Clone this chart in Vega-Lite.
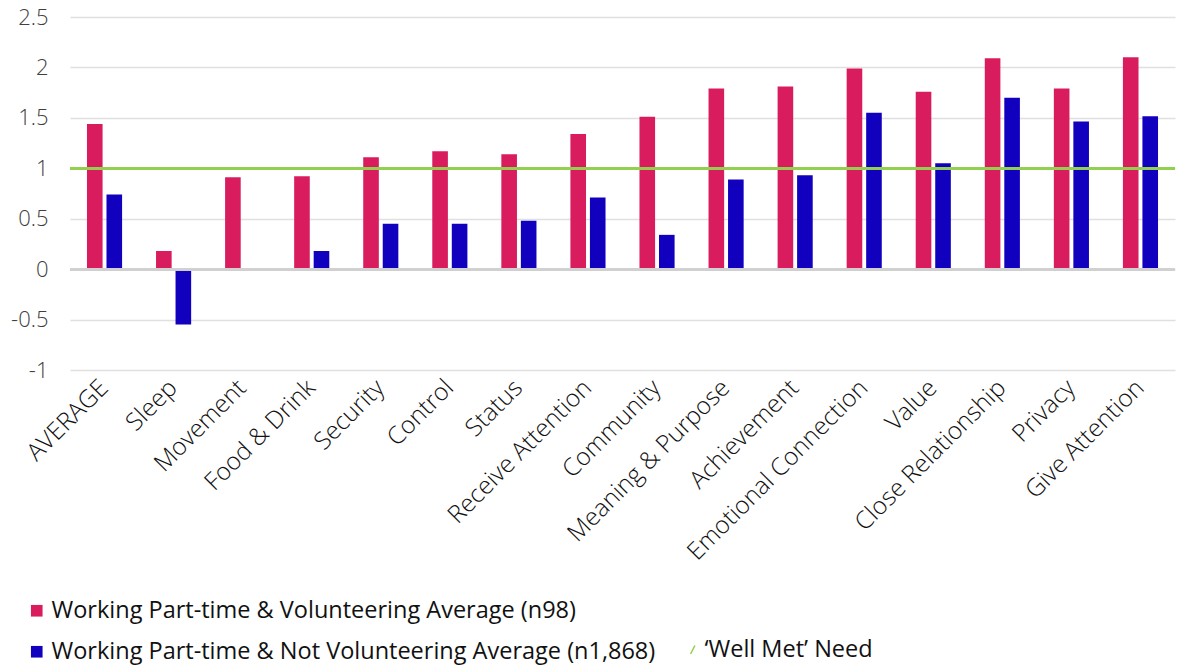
{
  "$schema": "https://vega.github.io/schema/vega-lite/v6.json",
  "autosize": {"type": "none"},
  "padding": {"left": 70, "top": 17, "right": 8, "bottom": 297},
  "width": 1105,
  "height": 353,
  "background": "#ffffff",
  "config": {
    "view": {"stroke": null},
    "font": "Open Sans"
  },
  "data": {
    "values": [
      {"need": "AVERAGE", "group": "Working Part-time & Volunteering Average (n98)", "value": 1.44},
      {"need": "AVERAGE", "group": "Working Part-time & Not Volunteering Average (n1,868)", "value": 0.74},
      {"need": "Sleep", "group": "Working Part-time & Volunteering Average (n98)", "value": 0.18},
      {"need": "Sleep", "group": "Working Part-time & Not Volunteering Average (n1,868)", "value": -0.55},
      {"need": "Movement", "group": "Working Part-time & Volunteering Average (n98)", "value": 0.91},
      {"need": "Food & Drink", "group": "Working Part-time & Volunteering Average (n98)", "value": 0.92},
      {"need": "Food & Drink", "group": "Working Part-time & Not Volunteering Average (n1,868)", "value": 0.18},
      {"need": "Security", "group": "Working Part-time & Volunteering Average (n98)", "value": 1.11},
      {"need": "Security", "group": "Working Part-time & Not Volunteering Average (n1,868)", "value": 0.45},
      {"need": "Control", "group": "Working Part-time & Volunteering Average (n98)", "value": 1.17},
      {"need": "Control", "group": "Working Part-time & Not Volunteering Average (n1,868)", "value": 0.45},
      {"need": "Status", "group": "Working Part-time & Volunteering Average (n98)", "value": 1.14},
      {"need": "Status", "group": "Working Part-time & Not Volunteering Average (n1,868)", "value": 0.48},
      {"need": "Receive Attention", "group": "Working Part-time & Volunteering Average (n98)", "value": 1.34},
      {"need": "Receive Attention", "group": "Working Part-time & Not Volunteering Average (n1,868)", "value": 0.71},
      {"need": "Community", "group": "Working Part-time & Volunteering Average (n98)", "value": 1.51},
      {"need": "Community", "group": "Working Part-time & Not Volunteering Average (n1,868)", "value": 0.34},
      {"need": "Meaning & Purpose", "group": "Working Part-time & Volunteering Average (n98)", "value": 1.79},
      {"need": "Meaning & Purpose", "group": "Working Part-time & Not Volunteering Average (n1,868)", "value": 0.89},
      {"need": "Achievement", "group": "Working Part-time & Volunteering Average (n98)", "value": 1.81},
      {"need": "Achievement", "group": "Working Part-time & Not Volunteering Average (n1,868)", "value": 0.93},
      {"need": "Emotional Connection", "group": "Working Part-time & Volunteering Average (n98)", "value": 1.99},
      {"need": "Emotional Connection", "group": "Working Part-time & Not Volunteering Average (n1,868)", "value": 1.55},
      {"need": "Value", "group": "Working Part-time & Volunteering Average (n98)", "value": 1.76},
      {"need": "Value", "group": "Working Part-time & Not Volunteering Average (n1,868)", "value": 1.05},
      {"need": "Close Relationship", "group": "Working Part-time & Volunteering Average (n98)", "value": 2.09},
      {"need": "Close Relationship", "group": "Working Part-time & Not Volunteering Average (n1,868)", "value": 1.70},
      {"need": "Privacy", "group": "Working Part-time & Volunteering Average (n98)", "value": 1.79},
      {"need": "Privacy", "group": "Working Part-time & Not Volunteering Average (n1,868)", "value": 1.465},
      {"need": "Give Attention", "group": "Working Part-time & Volunteering Average (n98)", "value": 2.10},
      {"need": "Give Attention", "group": "Working Part-time & Not Volunteering Average (n1,868)", "value": 1.515}
    ]
  },
  "layer": [
    {
      "mark": {"type": "bar"},
      "encoding": {
        "x": {
          "field": "need",
          "type": "nominal",
          "sort": null,
          "scale": {"paddingInner": 0, "paddingOuter": 0},
          "axis": {
            "title": null,
            "domain": false,
            "ticks": false,
            "labelAngle": -45,
            "labelAlign": "right",
            "labelBaseline": "middle",
            "labelPadding": 14,
            "labelFontSize": 24.5,
            "labelFont": "Open Sans",
            "labelFontWeight": 300,
            "labelColor": "#111111",
            "labelOverlap": false,
            "labelLimit": 400
          }
        },
        "xOffset": {
          "field": "group",
          "type": "nominal",
          "sort": [
            "Working Part-time & Volunteering Average (n98)",
            "Working Part-time & Not Volunteering Average (n1,868)"
          ],
          "scale": {"paddingInner": 0.2, "paddingOuter": 0.87}
        },
        "y": {
          "field": "value",
          "type": "quantitative",
          "scale": {"domain": [-1, 2.5], "nice": false, "zero": false},
          "axis": {
            "title": null,
            "values": [-1, -0.5, 0, 0.5, 1, 1.5, 2, 2.5],
            "labelExpr": "'' + datum.value",
            "domain": false,
            "ticks": false,
            "labelPadding": 22,
            "labelFontSize": 22,
            "labelFont": "Open Sans",
            "labelFontWeight": 300,
            "labelColor": "#404040",
            "gridColor": "#e0e0e0",
            "gridWidth": 1.5
          }
        },
        "color": {
          "field": "group",
          "type": "nominal",
          "sort": [
            "Working Part-time & Volunteering Average (n98)",
            "Working Part-time & Not Volunteering Average (n1,868)"
          ],
          "scale": {"range": ["#d81c5e", "#1200bf"]},
          "legend": {
            "title": null,
            "orient": "none",
            "legendX": -45,
            "legendY": 582,
            "direction": "vertical",
            "symbolType": "square",
            "symbolSize": 135,
            "symbolOpacity": 1,
            "labelFontSize": 23.5,
            "labelFont": "Open Sans",
            "labelColor": "#111111",
            "labelOffset": 3,
            "rowPadding": 16,
            "labelLimit": 700
          }
        }
      }
    },
    {
      "mark": {"type": "rule", "color": "#d0d0d0", "strokeWidth": 2},
      "encoding": {"y": {"datum": 0}}
    },
    {
      "mark": {"type": "rule", "strokeWidth": 2},
      "encoding": {
        "y": {"datum": 1},
        "stroke": {
          "datum": "‘Well Met’ Need",
          "scale": {"range": ["#92d050"]},
          "legend": {
            "title": null,
            "orient": "none",
            "legendX": 611,
            "legendY": 621,
            "symbolType": "M-0.35,0.7L0.35,-0.7",
            "symbolSize": 150,
            "symbolStrokeWidth": 1.5,
            "labelFontSize": 23.5,
            "labelFont": "Open Sans",
            "labelColor": "#111111",
            "labelOffset": 0,
            "labelLimit": 400
          }
        }
      }
    }
  ]
}
